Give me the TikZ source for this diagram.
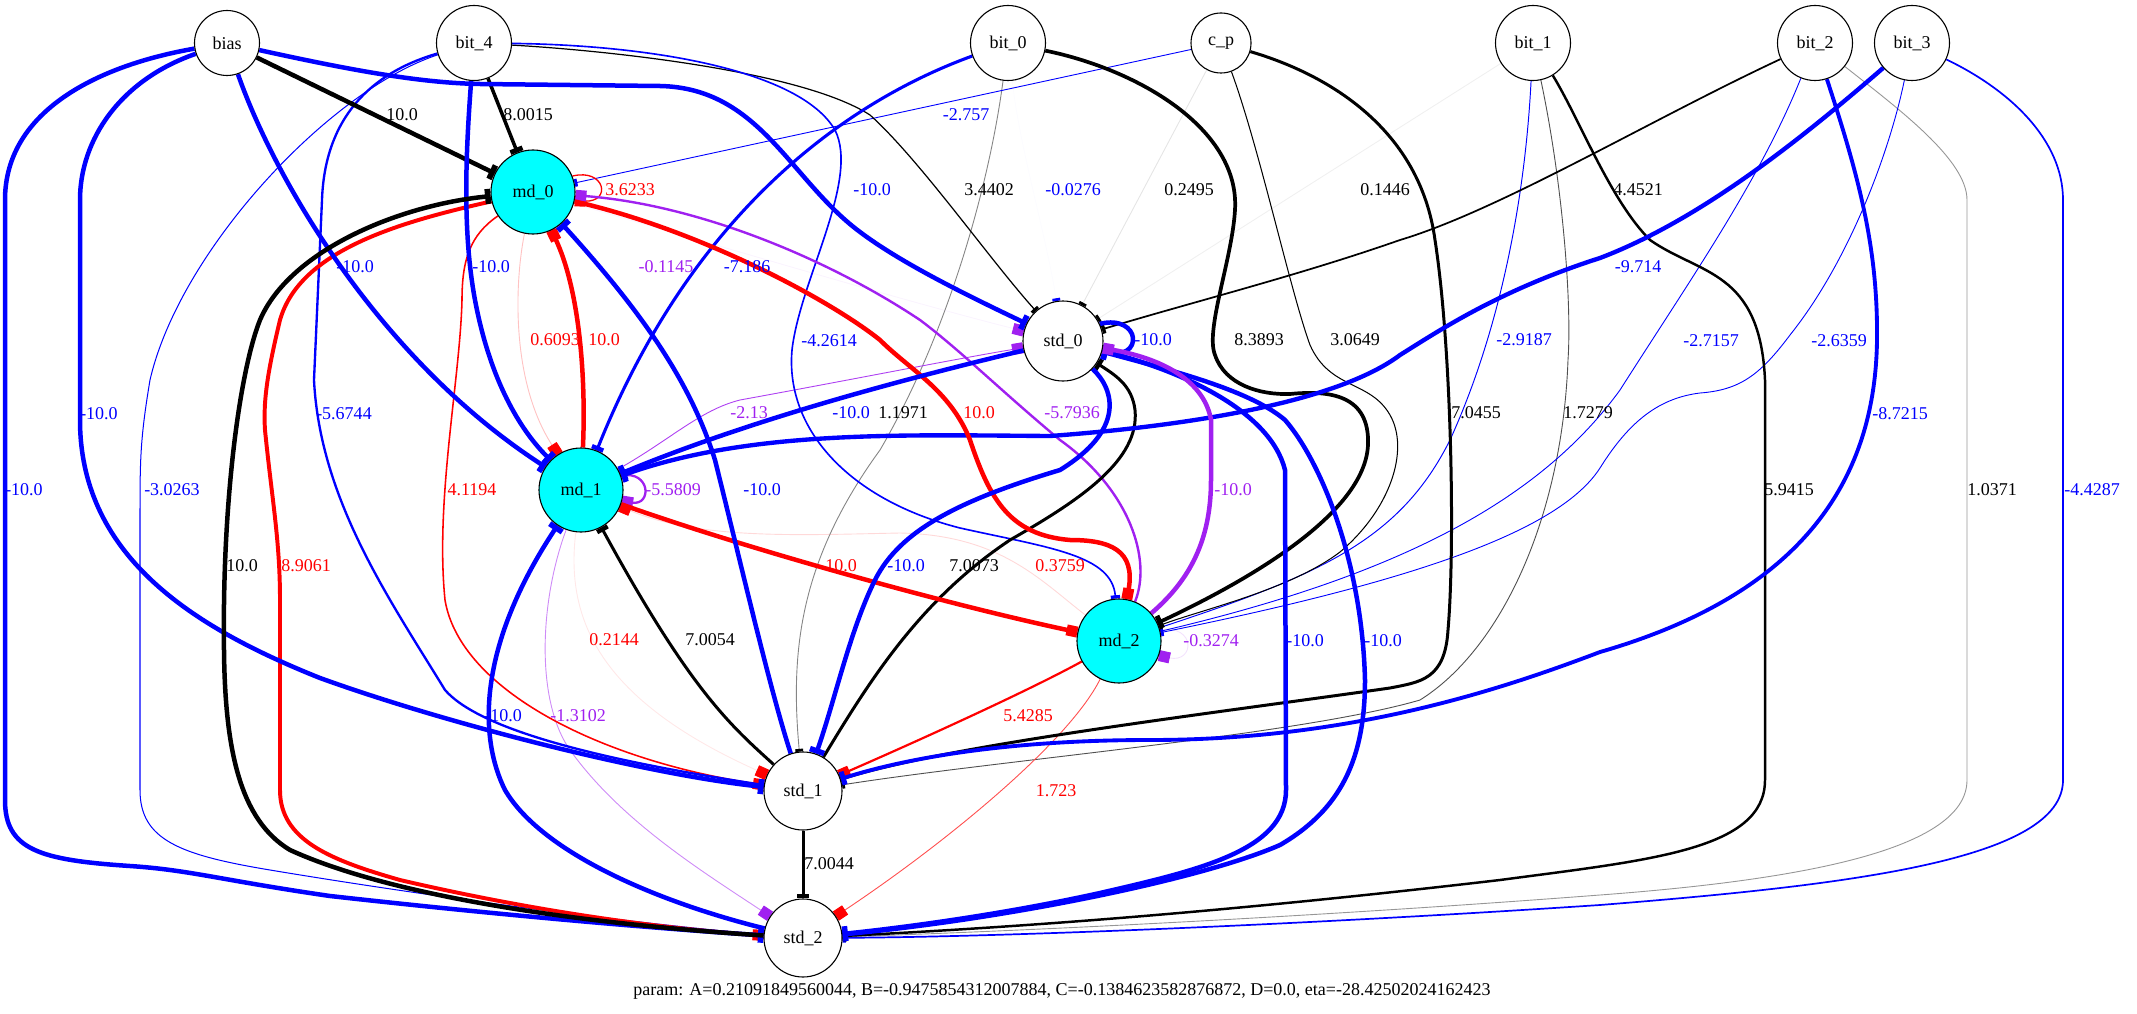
\documentclass[tikz,border=0pt]{standalone}
\usepackage{fontspec}
\setmainfont{Liberation Serif}
\usetikzlibrary{arrows.meta}
\pgfdeclarelayer{bg}
\pgfsetlayers{bg,main}
\definecolor{gvblue}{HTML}{0000FF}
\definecolor{gvred}{HTML}{FF0000}
\definecolor{gvpurple}{HTML}{A020F0}
\definecolor{gvcyan}{HTML}{00FFFF}
\begin{document}
\begin{tikzpicture}[x=1pt,y=-1pt,
  every node/.style={font=\fontsize{18}{21}\selectfont},
  nd/.style={circle, draw=black, line width=1.1pt, fill=white, inner sep=0pt, minimum size=#1},
  mdn/.style={nd=84pt, fill=gvcyan},
  E/.style n args={3}{draw=#1!#3!white, line width=#2pt},
  tee/.style={-{Rectangle[length=2pt 0.8, width=6pt 2, color=#1]}},
  box/.style={-{Rectangle[length=11pt, width=11pt, color=#1]}},
  lb/.style={text=#1, inner sep=0pt}]
\useasboundingbox (0,0) rectangle (2137,1014);
% nodes
\node[nd=65pt] (bias) at (227,43) {bias};
\node[nd=75pt] (b4) at (474,43) {bit\_4};
\node[nd=75pt] (b0) at (1008,43) {bit\_0};
\node[nd=60pt] (cp) at (1221,43) {c\_p};
\node[nd=75pt] (b1) at (1533,43) {bit\_1};
\node[nd=75pt] (b2) at (1815,43) {bit\_2};
\node[nd=75pt] (b3) at (1912,43) {bit\_3};
\node[mdn] (m0) at (533,192) {md\_0};
\node[nd=80pt] (s0) at (1063,341) {std\_0};
\node[mdn] (m1) at (581,490) {md\_1};
\node[mdn] (m2) at (1119,641) {md\_2};
\node[nd=78pt] (s1) at (803,791) {std\_1};
\node[nd=78pt] (s2) at (803,938) {std\_2};
\begin{pgfonlayer}{bg}
% faint edges
\draw[E={gvpurple}{0.9}{5}, box=gvpurple] (m0) .. controls (700,240) and (900,300) .. (s0);
\draw[E={gvblue}{0.9}{1}, tee=gvblue] (b0) .. controls (1020,150) and (1045,230) .. (s0);
\draw[E={black}{0.9}{6}, tee=black] (b1) -- (s0);
\draw[E={black}{0.9}{10}, tee=black] (cp) -- (s0);
\draw[E={gvred}{0.9}{9}, box=gvred] (m1) .. controls (565,620) and (600,700) .. (s1);
\draw[E={gvpurple}{0.9}{13}, box=gvpurple] (m2.15) .. controls +(36,-6) and +(36,8) .. (m2.-20);
\draw[E={gvred}{0.9}{15}, box=gvred] (m2) .. controls (1040,580) and (1000,535) .. (900,533) .. controls (800,535) and (700,540) .. (m1);
\draw[E={gvred}{0.9}{24}, box=gvred] (m0) .. controls (515,280) and (510,380) .. (m1);
\draw[E={black}{0.9}{41}, tee=black] (b2) .. controls (1900,110) and (1967,160) .. (1967,200) -- (1967,780) .. controls (1967,850) and (1800,880) .. (1600,895) .. controls (1300,918) and (1000,932) .. (s2);
\draw[E={black}{0.9}{48}, tee=black] (b0) .. controls (990,180) and (950,330) .. (880,450) .. controls (800,560) and (790,650) .. (s1);
\draw[E={gvpurple}{0.9}{52}, box=gvpurple] (m1) .. controls (540,600) and (535,700) .. (570,750) .. controls (620,820) and (700,870) .. (s2);
\draw[E={black}{0.9}{69}, tee=black] (b1) .. controls (1562,180) and (1572,300) .. (1568,360) .. controls (1562,520) and (1500,650) .. (1420,700) .. controls (1300,735) and (1000,760) .. (s1);
\draw[E={gvred}{0.9}{69}, box=gvred] (m2) .. controls (1070,740) and (950,840) .. (s2);
\draw[E={gvpurple}{0.9}{85}, box=gvpurple] (m1) .. controls (670,440) and (700,410) .. (740,400) .. controls (850,380) and (950,360) .. (s0);
% thin solid edges
\draw[E={gvblue}{0.9}{100}, tee=gvblue] (cp) -- (m0);
\draw[E={gvblue}{0.96}{100}, tee=gvblue] (b1) .. controls (1525,200) and (1500,330) .. (1450,440) .. controls (1400,540) and (1320,575) .. (m2);
\draw[E={gvblue}{0.9}{100}, tee=gvblue] (b2) .. controls (1760,180) and (1690,280) .. (1620,390) .. controls (1540,500) and (1400,575) .. (m2);
\draw[E={gvblue}{0.9}{100}, tee=gvblue] (b3) .. controls (1890,150) and (1850,260) .. (1790,335) .. controls (1760,375) and (1740,390) .. (1700,393) .. controls (1660,398) and (1630,420) .. (1600,468) .. controls (1560,530) and (1420,580) .. (m2);
\draw[E={black}{1.03}{100}, tee=black] (cp) .. controls (1260,150) and (1290,290) .. (1310,345) .. controls (1330,390) and (1370,380) .. (1390,415) .. controls (1410,450) and (1390,510) .. (1340,552) .. controls (1290,590) and (1200,610) .. (m2);
\draw[E={gvblue}{1.01}{100}, tee=gvblue] (b4) .. controls (330,90) and (180,250) .. (150,380) .. controls (140,440) and (140,460) .. (140,520) -- (140,790) .. controls (140,840) and (180,855) .. (270,870) .. controls (450,900) and (650,925) .. (s2);
\draw[E={black}{1.22}{100}, tee=black] (b4) .. controls (600,50) and (800,70) .. (870,115) .. controls (920,160) and (990,260) .. (s0);
\draw[E={gvred}{1.31}{100}, box=gvred] (m0.22) .. controls (605,168) and (612,202) .. (m0.-12);
\draw[E={gvred}{1.56}{100}, box=gvred] (m0) .. controls (470,235) and (462,260) .. (462,300) .. controls (460,380) and (435,500) .. (445,600) .. controls (460,690) and (600,760) .. (s1);
\draw[E={gvblue}{1.63}{100}, tee=gvblue] (b4) .. controls (650,45) and (800,70) .. (835,130) .. controls (860,180) and (800,280) .. (792,350) .. controls (785,430) and (850,500) .. (960,528) .. controls (1050,548) and (1112,555) .. (m2);
\draw[E={gvblue}{1.71}{100}, tee=gvblue] (b3) .. controls (2010,90) and (2063,140) .. (2063,200) -- (2063,780) .. controls (2063,860) and (1850,885) .. (1600,905) .. controls (1300,925) and (1000,937) .. (s2);
\draw[E={black}{1.73}{100}, tee=black] (b2) .. controls (1650,120) and (1500,210) .. (1400,240) .. controls (1300,275) and (1200,300) .. (s0);
\draw[E={gvred}{2.2}{100}, box=gvred] (m2) .. controls (1030,690) and (920,740) .. (s1);
\draw[E={gvpurple}{2.29}{100}, box=gvpurple] (m1.20) .. controls +(30,-5) and +(30,5) .. (m1.-15);
\draw[E={gvblue}{2.34}{100}, tee=gvblue] (b4) .. controls (380,70) and (325,110) .. (322,200) -- (314,380) .. controls (320,500) and (390,600) .. (445,690) .. controls (480,730) and (600,760) .. (s1);
\draw[E={gvpurple}{2.4}{100}, box=gvpurple] (m2) .. controls (1152,560) and (1130,490) .. (1060,440) .. controls (1000,390) and (960,350) .. (920,320) .. controls (830,260) and (700,205) .. (m0);
\draw[E={black}{2.47}{100}, tee=black] (b1) .. controls (1580,120) and (1610,200) .. (1650,240) .. controls (1700,275) and (1760,270) .. (1765,380) -- (1765,780) .. controls (1765,850) and (1650,860) .. (1500,880) .. controls (1200,915) and (1000,928) .. (s2);
% thick edges
\draw[E={black}{3.0}{100}, tee=black] (s1) .. controls (730,725) and (690,690) .. (m1);
\draw[E={black}{3.0}{100}, tee=black] (s1) .. controls (870,680) and (920,600) .. (1010,540) .. controls (1080,500) and (1140,460) .. (1135,410) .. controls (1132,385) and (1115,375) .. (s0);
\draw[E={black}{3.0}{100}, tee=black] (s1) -- (s2);
\draw[E={black}{3.0}{100}, tee=black] (cp) .. controls (1330,75) and (1420,130) .. (1435,240) .. controls (1452,350) and (1455,550) .. (1448,630) .. controls (1445,680) and (1420,682) .. (1390,688) .. controls (1200,715) and (950,745) .. (s1);
\draw[E={gvblue}{3.1}{100}, tee=gvblue] (b0) .. controls (846,102) and (692,212) .. (m1);
\draw[E={black}{3.5}{100}, tee=black] (b4) -- (m0);
\draw[E={black}{3.7}{100}, tee=black] (b0) .. controls (1140,70) and (1240,130) .. (1235,210) .. controls (1232,260) and (1205,330) .. (1215,355) .. controls (1225,385) and (1260,395) .. (1290,394) .. controls (1330,390) and (1370,395) .. (1368,445) .. controls (1365,510) and (1260,575) .. (m2);
\draw[E={gvblue}{3.86}{100}, tee=gvblue] (b2) .. controls (1860,180) and (1878,250) .. (1877,340) .. controls (1875,500) and (1780,600) .. (1600,652) .. controls (1500,690) and (1350,740) .. (1150,740) .. controls (1000,740) and (900,760) .. (s1);
\draw[E={gvred}{3.95}{100}, box=gvred] (m0) .. controls (400,222) and (300,250) .. (280,320) .. controls (268,370) and (263,400) .. (265,430) .. controls (272,500) and (280,540) .. (280,600) -- (280,790) .. controls (280,840) and (330,860) .. (400,880) .. controls (550,915) and (680,930) .. (s2);
\draw[E={gvblue}{4.36}{100}, tee=gvblue] (b3) .. controls (1800,140) and (1700,220) .. (1600,258) .. controls (1500,290) and (1440,330) .. (1400,355) .. controls (1340,400) and (1200,425) .. (1050,436) .. controls (900,435) and (750,430) .. (m1);
\draw[E={black}{4.5}{100}, tee=black] (bias) -- (m0);
\draw[E={gvblue}{4.5}{100}, tee=gvblue] (bias) .. controls (350,70) and (420,83) .. (480,84) -- (660,86) .. controls (760,88) and (790,180) .. (860,232) .. controls (900,262) and (960,292) .. (s0);
\draw[E={gvblue}{4.5}{100}, tee=gvblue] (bias) .. controls (275,180) and (380,360) .. (m1);
\draw[E={gvblue}{4.5}{100}, tee=gvblue] (bias) .. controls (120,80) and (80,140) .. (80,200) -- (80,420) .. controls (80,560) and (200,630) .. (320,678) .. controls (450,725) and (650,775) .. (s1);
\draw[E={gvblue}{4.5}{100}, tee=gvblue] (bias) .. controls (100,65) and (5,110) .. (5,200) -- (5,800) .. controls (5,850) and (40,860) .. (130,866) .. controls (190,870) and (220,880) .. (330,896) .. controls (500,915) and (650,928) .. (s2);
\draw[E={gvblue}{4.5}{100}, tee=gvblue] (b4) .. controls (466,150) and (462,230) .. (475,300) .. controls (490,380) and (520,430) .. (m1);
\draw[E={gvred}{4.5}{100}, box=gvred] (m1) .. controls (586,380) and (580,290) .. (m0);
\draw[E={gvred}{4.5}{100}, box=gvred] (m0) .. controls (700,230) and (830,300) .. (880,340) .. controls (910,370) and (950,390) .. (970,440) .. controls (990,500) and (1010,535) .. (1070,540) .. controls (1110,540) and (1136,550) .. (m2);
\draw[E={gvred}{4.5}{100}, box=gvred] (m1) .. controls (750,550) and (950,605) .. (m2);
\draw[E={black}{4.5}{100}, tee=black] (s2) .. controls (600,925) and (400,900) .. (290,850) .. controls (240,820) and (225,750) .. (224,650) .. controls (222,500) and (240,370) .. (260,320) .. controls (290,250) and (400,205) .. (m0);
\draw[E={gvblue}{4.5}{100}, tee=gvblue] (s2) .. controls (650,900) and (540,850) .. (505,790) .. controls (480,740) and (475,650) .. (m1);
\draw[E={gvblue}{4.5}{100}, tee=gvblue] (s1) .. controls (770,690) and (740,560) .. (715,460) .. controls (690,380) and (640,310) .. (m0);
\draw[E={gvblue}{4.5}{100}, tee=gvblue] (s0) .. controls (900,380) and (750,420) .. (m1);
\draw[E={gvblue}{4.5}{100}, tee=gvblue] (s0.25) .. controls +(42,-10) and +(42,10) .. (s0.-15);
\draw[E={gvblue}{4.5}{100}, tee=gvblue] (s0) .. controls (1115,390) and (1125,430) .. (1060,470) .. controls (960,500) and (900,530) .. (875,580) .. controls (850,630) and (835,700) .. (s1);
\draw[E={gvblue}{4.5}{100}, tee=gvblue] (s0) .. controls (1180,370) and (1270,410) .. (1285,470) -- (1286,790) .. controls (1286,850) and (1200,870) .. (1100,893) .. controls (1000,915) and (900,928) .. (s2);
\draw[E={gvblue}{4.5}{100}, tee=gvblue] (s2) .. controls (1000,920) and (1200,880) .. (1280,845) .. controls (1340,810) and (1365,760) .. (1365,680) .. controls (1362,560) and (1320,460) .. (1285,420) .. controls (1250,390) and (1170,370) .. (s0);
\draw[E={gvpurple}{4.5}{100}, box=gvpurple] (m2) .. controls (1190,580) and (1211,540) .. (1211,480) -- (1211,420) .. controls (1205,385) and (1170,360) .. (s0);
\end{pgfonlayer}
% labels
\node[lb=black] (l1) at (402,115) {10.0};
\node[lb=black] (l2) at (528,115) {8.0015};
\node[lb=gvblue] (l3) at (355,267) {-10.0};
\node[lb=gvblue] (l4) at (491,267) {-10.0};
\node[lb=gvblue] (l5) at (966,115) {-2.757};
\node[lb=gvred] (l6) at (630,190) {3.6233};
\node[lb=gvblue] (l7) at (872,190) {-10.0};
\node[lb=black] (l8) at (989,190) {3.4402};
\node[lb=gvpurple] (l9) at (666,267) {-0.1145};
\node[lb=gvblue] (l10) at (747,267) {-7.186};
\node[lb=gvblue] (l11) at (1073,190) {-0.0276};
\node[lb=black] (l12) at (1189,190) {0.2495};
\node[lb=black] (l13) at (1385,190) {0.1446};
\node[lb=black] (l14) at (1638,190) {4.4521};
\node[lb=gvblue] (l15) at (1638,267) {-9.714};
\node[lb=gvblue] (l16) at (1711,341) {-2.7157};
\node[lb=gvblue] (l17) at (1839,341) {-2.6359};
\node[lb=black] (l18) at (1259,340) {8.3893};
\node[lb=black] (l19) at (1355,340) {3.0649};
\node[lb=gvblue] (l20) at (1524,340) {-2.9187};
\node[lb=gvblue] (l21) at (1153,340) {-10.0};
\node[lb=gvpurple] (l22) at (1072,413) {-5.7936};
\node[lb=gvpurple] (l23) at (1233,490) {-10.0};
\node[lb=gvpurple] (l24) at (749,413) {-2.13};
\node[lb=gvblue] (l25) at (851,413) {-10.0};
\node[lb=black] (l26) at (903,413) {1.1971};
\node[lb=gvred] (l27) at (979,413) {10.0};
\node[lb=black] (l28) at (1476,413) {7.0455};
\node[lb=black] (l29) at (1588,413) {1.7279};
\node[lb=gvblue] (l30) at (1900,414) {-8.7215};
\node[lb=gvred] (l31) at (555,340) {0.6093};
\node[lb=gvred] (l32) at (604,340) {10.0};
\node[lb=gvred] (l33) at (472,490) {4.1194};
\node[lb=gvpurple] (l34) at (673,490) {-5.5809};
\node[lb=gvblue] (l35) at (762,490) {-10.0};
\node[lb=gvblue] (l36) at (829,341) {-4.2614};
\node[lb=gvblue] (l37) at (99,414) {-10.0};
\node[lb=gvblue] (l38) at (344,414) {-5.6744};
\node[lb=gvblue] (l39) at (172,490) {-3.0263};
\node[lb=gvblue] (l40) at (24,490) {-10.0};
\node[lb=black] (l41) at (242,566) {10.0};
\node[lb=gvred] (l42) at (306,566) {8.9061};
\node[lb=gvred] (l43) at (841,566) {10.0};
\node[lb=gvblue] (l44) at (906,566) {-10.0};
\node[lb=black] (l45) at (974,566) {7.0073};
\node[lb=gvred] (l46) at (1060,566) {0.3759};
\node[lb=gvblue] (l47) at (1305,641) {-10.0};
\node[lb=gvblue] (l48) at (1383,641) {-10.0};
\node[lb=gvpurple] (l49) at (1211,641) {-0.3274};
\node[lb=black] (l50) at (1789,490) {5.9415};
\node[lb=black] (l51) at (1992,490) {1.0371};
\node[lb=gvblue] (l52) at (2092,490) {-4.4287};
\node[lb=gvred] (l53) at (614,640) {0.2144};
\node[lb=black] (l54) at (710,640) {7.0054};
\node[lb=gvblue] (l55) at (503,716) {-10.0};
\node[lb=gvpurple] (l56) at (578,716) {-1.3102};
\node[lb=gvred] (l57) at (1028,716) {5.4285};
\node[lb=gvred] (l58) at (1056,791) {1.723};
\node[lb=black] (l59) at (829,864) {7.0044};
\node[lb=black] (param) at (1062,991) {param: A=0.21091849560044, B=-0.9475854312007884, C=-0.1384623582876872, D=0.0, eta=-28.42502024162423};
\end{tikzpicture}
\end{document}
